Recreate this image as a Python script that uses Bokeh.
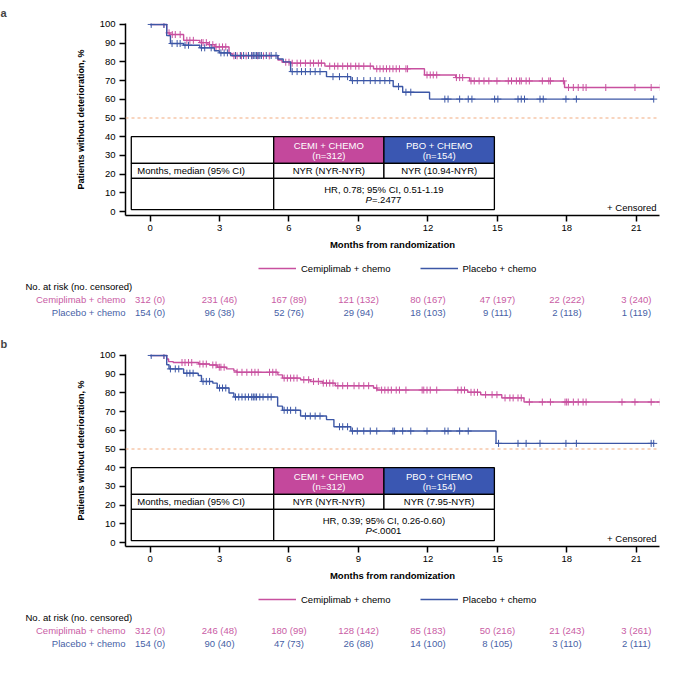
import numpy as np
from bokeh.plotting import figure
from bokeh.layouts import column
from bokeh.models import Range1d, FixedTicker, Span, Title, Legend, LegendItem
from bokeh.core.properties import value
from bokeh.embed import file_html
from bokeh.resources import INLINE

# ---------------- data ----------------
MONTH_TICKS = [0, 3, 6, 9, 12, 15, 18, 21]
Y_TICKS = [0, 10, 20, 30, 40, 50, 60, 70, 80, 90, 100]
ARM_NAMES = ["Cemiplimab + chemo", "Placebo + chemo"]
ARM_HEAD = ["CEMI + CHEMO", "PBO + CHEMO"]
ARM_N = ["(n=312)", "(n=154)"]

# panel a
A_CEMI_T = [0, 0.72, 0.86, 1.45, 2.15, 2.50, 2.80, 3.41, 3.55, 5.52, 5.70, 6.10, 7.55, 9.65, 11.85, 13.20, 13.80, 17.90]
A_CEMI_S = [100, 95.5, 94.6, 91.5, 90.3, 89.2, 88.0, 84.5, 83.2, 81.0, 79.8, 79.3, 77.7, 76.3, 73.0, 71.6, 69.8, 66.3]
A_CEMI_END = 22.03
A_CEMI_CENS = [0.6, 0.82, 0.96, 1.09, 1.3, 1.59, 1.72, 1.87, 2.22, 2.29, 2.43, 2.57, 2.71, 2.85, 2.99, 3.13, 3.27,
               3.62, 3.76, 3.95, 4.15, 4.4, 4.65, 4.9, 5.15, 5.86, 6.0, 6.14, 6.35, 6.5, 6.71, 6.92, 7.06, 7.27, 7.4,
               7.76, 7.97, 8.11, 8.32, 8.53, 8.67, 8.88, 9.02, 9.23, 9.51, 9.79, 9.93, 10.07, 10.21, 10.35, 10.49,
               10.63, 10.77, 11.05, 11.12, 11.96, 12.1, 12.23, 12.38, 13.23, 13.37, 13.5, 13.86, 14.0, 14.21, 14.42,
               14.63, 14.98, 15.47, 15.61, 15.82, 15.96, 16.03, 16.24, 16.38, 16.94, 17.22, 17.29, 17.85, 18.07,
               18.28, 18.49, 18.7, 18.83, 19.68, 20.94, 21.64, 22.03]
A_PBO_T = [0, 0.72, 0.88, 1.45, 2.15, 2.78, 2.99, 3.48, 5.52, 5.75, 6.07, 7.62, 8.67, 10.5, 10.91, 12.07]
A_PBO_S = [100, 94.0, 89.8, 88.9, 87.5, 85.9, 84.8, 83.4, 81.5, 80.0, 74.8, 72.1, 70.0, 66.8, 63.8, 60.1]
A_PBO_END = 21.75
A_PBO_CENS = [0.05, 0.6, 0.95, 1.17, 1.3, 1.51, 1.66, 2.22, 2.36, 2.64, 3.06, 3.2, 3.34, 3.69, 3.9, 4.04, 4.25, 4.39,
              4.46, 4.53, 4.6, 4.67, 4.74, 4.81, 5.02, 5.23, 5.44, 6.14, 6.35, 6.54, 6.71, 6.92, 7.13, 7.34, 7.9,
              8.18, 8.53, 8.74, 8.95, 9.23, 9.51, 9.72, 9.93, 10.14, 10.35, 10.73, 11.05, 11.26, 12.73, 12.87,
              13.37, 13.74, 13.9, 14.88, 15.02, 15.89, 16.03, 16.17, 16.84, 16.98, 17.96, 18.41, 21.75]
A_MEDIAN = ["NYR (NYR-NYR)", "NYR (10.94-NYR)"]
A_HR = "HR, 0.78; 95% CI, 0.51-1.19"
A_P = "=.2477"
A_RISK_CEMI = ["312 (0)", "231 (46)", "167 (89)", "121 (132)", "80 (167)", "47 (197)", "22 (222)", "3 (240)"]
A_RISK_PBO = ["154 (0)", "96 (38)", "52 (76)", "29 (94)", "18 (103)", "9 (111)", "2 (118)", "1 (119)"]

# panel b
B_CEMI_T = [0, 0.72, 0.8, 1.0, 2.1, 2.57, 2.9, 3.3, 3.62, 3.75, 5.52, 5.72, 6.5, 6.92, 7.45, 8.0, 9.65, 9.8,
            13.72, 14.28, 15.19, 16.15]
B_CEMI_S = [100, 98.1, 96.7, 96.2, 95.4, 94.9, 93.7, 92.8, 91.7, 91.0, 89.6, 87.9, 87.0, 86.1, 85.2, 83.8, 82.6,
            81.5, 80.3, 79.0, 77.3, 75.1]
B_CEMI_END = 22.03
B_CEMI_CENS = [0.6, 1.38, 1.51, 1.66, 1.8, 2.15, 2.29, 2.43, 2.71, 2.85, 2.99, 3.06, 3.2, 3.76, 3.97, 4.18, 4.39,
               4.53, 4.67, 5.16, 5.3, 5.44, 5.79, 5.93, 6.07, 6.21, 6.35, 6.64, 6.85, 7.06, 7.27, 7.48, 7.62, 7.76,
               7.9, 8.11, 8.32, 8.53, 8.81, 9.02, 9.23, 9.44, 9.79, 10.0, 10.14, 10.28, 10.42, 10.63, 10.77, 11.05,
               11.75, 11.82, 11.96, 12.1, 12.38, 13.29, 13.44, 13.58, 13.86, 14.0, 14.14, 14.49, 14.77, 14.98,
               15.33, 15.54, 15.68, 15.89, 16.03, 16.38, 16.94, 17.29, 17.92, 17.99, 18.06, 18.28, 18.49, 18.7,
               18.83, 20.38, 20.94, 21.64, 22.03]
B_PBO_T = [0, 0.72, 0.82, 1.45, 2.08, 2.22, 2.71, 2.9, 3.41, 3.62, 5.51, 5.72, 6.5, 7.62, 7.94, 8.67, 14.94]
B_PBO_S = [100, 95.0, 92.8, 90.5, 89.3, 86.1, 85.2, 82.6, 79.9, 77.8, 72.9, 70.7, 67.6, 65.7, 61.9, 59.6, 53.0]
B_PBO_END = 21.75
B_PBO_CENS = [0.05, 0.6, 0.88, 1.09, 1.24, 1.59, 1.72, 1.86, 2.29, 2.43, 2.57, 3.0, 3.13, 3.27, 3.69, 3.83, 3.97,
              4.11, 4.25, 4.39, 4.46, 4.53, 4.6, 4.74, 4.88, 5.09, 5.23, 5.79, 5.93, 6.07, 6.29, 6.71, 6.92, 7.13,
              7.34, 8.18, 8.32, 8.53, 8.74, 8.95, 9.23, 9.51, 9.79, 10.49, 10.56, 10.91, 11.26, 11.96, 12.73,
              12.87, 13.37, 13.74, 15.05, 15.89, 16.24, 16.84, 17.96, 18.41, 21.64, 21.75]
B_MEDIAN = ["NYR (NYR-NYR)", "NYR (7.95-NYR)"]
B_HR = "HR, 0.39; 95% CI, 0.26-0.60)"
B_P = "<.0001"
B_RISK_CEMI = ["312 (0)", "246 (48)", "180 (99)", "128 (142)", "85 (183)", "50 (216)", "21 (243)", "3 (261)"]
B_RISK_PBO = ["154 (0)", "90 (40)", "47 (73)", "26 (88)", "14 (100)", "8 (105)", "3 (110)", "2 (111)"]

# ---------------- style / layout ----------------
FONT = "Liberation Sans"
PINK = "#c8509f"
BLUE = "#3c57a6"
PINK_FILL = "#c4489c"
BLUE_FILL = "#3a57b2"
PINK_TXT = "#c95ca4"
BLUE_TXT = "#475fa6"
REF_COLOR = "#f2ab80"

W = 663
H_MAIN = 255
H_RISK = 76
BL, BR, BT, BB = 125, 4, 21, 40
X0, X1 = -1.06, 22.0
Y0, Y1 = -2.1, 100.5
SX = (W - BL - BR) / (X1 - X0)          # px per month
SY = (H_MAIN - BT - BB) / (Y1 - Y0)     # px per percent

# overlay table (data coords)
TX = [-0.81, 5.34, 10.1, 14.87]
TY = [40.0, 25.8, 17.7, 1.06]
# risk-table rows (px from top of the risk strip)
RY_LEGEND, RY_HEAD, RY_C, RY_P = 13, 31, 44, 56.7


def km_y(times, surv, t):
    idx = np.searchsorted(np.array(times), np.array(t), side="right") - 1
    return list(np.array(surv)[idx])


def txt(p, x, y, text, color="black", size="9.5px", align="center", style="normal", x_offset=0):
    p.text(x=x, y=y, text=text, text_color=color, text_font=value(FONT),
           text_font_size=value(size), text_align=align, text_baseline="middle",
           text_font_style=style, x_offset=x_offset)


def panel(letter, ct, cs, cend, ccens, pt, ps, pend, pcens, median, hr, pval, risk_c, risk_p):
    p = figure(width=W, height=H_MAIN, x_range=Range1d(X0, X1), y_range=Range1d(Y0, Y1),
               output_backend="svg", toolbar_location=None, title=None, frame_align=False,
               min_border_left=BL, min_border_right=BR, min_border_top=BT, min_border_bottom=BB)
    p.outline_line_color = None
    p.grid.visible = False
    p.add_layout(Title(text=letter, align="left", offset=-BL, text_font=FONT, text_font_size="11px",
                       text_font_style="bold", standoff=9), "above")

    for ax in (p.xaxis[0], p.yaxis[0]):
        ax.axis_line_width = 1.5
        ax.major_tick_line_width = 1.5
        ax.major_tick_out = 6
        ax.major_tick_in = 0
        ax.minor_tick_out = 0
        ax.minor_tick_in = 0
        ax.major_label_text_font = FONT
        ax.major_label_text_font_size = "9.5px"
        ax.major_label_text_color = "black"
        ax.axis_label_text_font = FONT
        ax.axis_label_text_font_style = "bold"
        ax.axis_label_text_color = "black"
    p.xaxis.ticker = FixedTicker(ticks=MONTH_TICKS)
    p.yaxis.ticker = FixedTicker(ticks=Y_TICKS)
    p.xaxis.axis_label = "Months from randomization"
    p.xaxis.axis_label_text_font_size = "9.5px"
    p.xaxis.major_label_standoff = 3
    p.xaxis.axis_label_standoff = 5
    p.yaxis.axis_label = "Patients without deterioration, %"
    p.yaxis.axis_label_text_font_size = "9px"
    p.yaxis.major_label_standoff = 4
    p.yaxis.axis_label_standoff = 11

    p.add_layout(Span(location=50, dimension="width", line_color=REF_COLOR, line_dash="3 3", line_width=1.2))

    # curves (placebo drawn last, on top)
    for t, s, end, cens, col in ((ct, cs, cend, ccens, PINK), (pt, ps, pend, pcens, BLUE)):
        p.step(x=list(t) + [end], y=list(s) + [s[-1]], mode="after", line_color=col, line_width=1.4)
        p.scatter(x=cens, y=km_y(t, s, cens), marker="cross", size=7, line_color=col, line_width=1)

    # overlay table
    cells_l = [TX[0], TX[1], TX[2], TX[0], TX[1], TX[2], TX[0], TX[1]]
    cells_r = [TX[1], TX[2], TX[3], TX[1], TX[2], TX[3], TX[1], TX[3]]
    cells_t = [TY[0], TY[0], TY[0], TY[1], TY[1], TY[1], TY[2], TY[2]]
    cells_b = [TY[1], TY[1], TY[1], TY[2], TY[2], TY[2], TY[3], TY[3]]
    fills = ["white", PINK_FILL, BLUE_FILL, "white", "white", "white", "white", "white"]
    p.quad(left=cells_l, right=cells_r, top=cells_t, bottom=cells_b, fill_color=fills,
           line_color="black", line_width=1.3)
    cx = [(TX[1] + TX[2]) / 2, (TX[2] + TX[3]) / 2]
    hl1 = TY[0] - (TY[0] - TY[1]) * 0.33
    hl2 = TY[0] - (TY[0] - TY[1]) * 0.70
    txt(p, cx, [hl1, hl1], ARM_HEAD, color="white")
    txt(p, cx, [hl2, hl2], ARM_N, color="white")
    rm = (TY[1] + TY[2]) / 2
    txt(p, [TX[0]], [rm], ["Months, median (95% CI)"], align="left", x_offset=6)
    txt(p, cx, [rm, rm], median)
    r1 = TY[2] - (TY[2] - TY[3]) * 0.34
    r2 = TY[2] - (TY[2] - TY[3]) * 0.68
    txt(p, [TX[2]], [r1], [hr])
    txt(p, [TX[2]], [r2], ["P"], align="right", style="italic", x_offset=-12)
    txt(p, [TX[2]], [r2], [pval], align="left", x_offset=-12)
    txt(p, [X1], [Y0 + 7.6 / SY], ["+ Censored"], align="right", x_offset=-3)

    # risk table strip (frame spans full width; months aligned with the plot above)
    q = figure(width=W, height=H_RISK, x_range=Range1d(X0 - BL / SX, X1 + BR / SX),
               y_range=Range1d(H_RISK, 0), output_backend="svg", toolbar_location=None, title=None,
               frame_align=False, min_border=0, min_border_left=0, min_border_right=0,
               min_border_top=0, min_border_bottom=0, x_axis_location=None, y_axis_location=None)
    q.outline_line_color = None
    q.grid.visible = False
    txt(q, [X0], [RY_HEAD], ["No. at risk (no. censored)"], align="left", x_offset=-100)
    txt(q, [X0], [RY_C], [ARM_NAMES[0]], color=PINK_TXT, align="right")
    txt(q, [X0], [RY_P], [ARM_NAMES[1]], color=BLUE_TXT, align="right")
    txt(q, MONTH_TICKS, [RY_C] * len(MONTH_TICKS), risk_c, color=PINK_TXT)
    txt(q, MONTH_TICKS, [RY_P] * len(MONTH_TICKS), risk_p, color=BLUE_TXT)
    lr1 = q.line(x=[np.nan], y=[np.nan], line_color=PINK, line_width=1.5)
    lr2 = q.line(x=[np.nan], y=[np.nan], line_color=BLUE, line_width=1.5)
    leg = Legend(items=[LegendItem(label=ARM_NAMES[0], renderers=[lr1]),
                        LegendItem(label=ARM_NAMES[1], renderers=[lr2])],
                 orientation="horizontal", location=(258, H_RISK - RY_LEGEND - 6),
                 glyph_width=38, glyph_height=12, label_height=12, label_standoff=5, spacing=29,
                 padding=0, margin=0, border_line_color=None, background_fill_alpha=0,
                 label_text_font=FONT, label_text_font_size="9.5px", label_text_color="black")
    q.add_layout(leg)
    return column(p, q, spacing=0)


pa = panel("a", A_CEMI_T, A_CEMI_S, A_CEMI_END, A_CEMI_CENS, A_PBO_T, A_PBO_S, A_PBO_END, A_PBO_CENS,
           A_MEDIAN, A_HR, A_P, A_RISK_CEMI, A_RISK_PBO)
pb = panel("b", B_CEMI_T, B_CEMI_S, B_CEMI_END, B_CEMI_CENS, B_PBO_T, B_PBO_S, B_PBO_END, B_PBO_CENS,
           B_MEDIAN, B_HR, B_P, B_RISK_CEMI, B_RISK_PBO)
layout = column(pa, pb, spacing=0)

open("out.html", "w").write(file_html(layout, INLINE))
